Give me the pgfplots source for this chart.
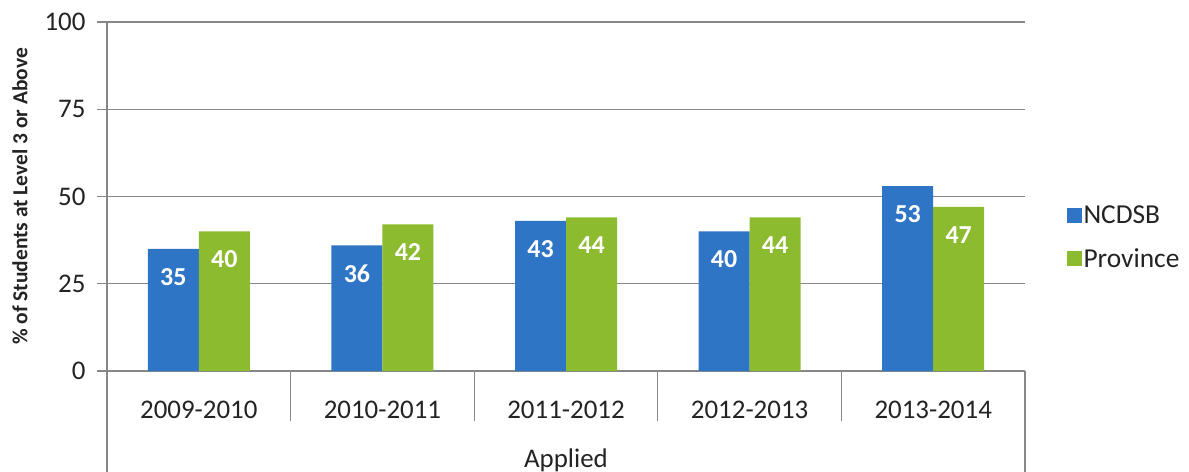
\documentclass[border=0pt]{standalone}
\usepackage{pgfplots}
\pgfplotsset{compat=1.18}
\usepackage{fontspec}
\setmainfont{Carlito}
\definecolor{ncblue}{RGB}{46,117,198}
\definecolor{prgreen}{RGB}{140,187,48}
\definecolor{txt}{RGB}{35,35,35}
\definecolor{gridc}{RGB}{135,135,135}

\begin{document}
\begin{tikzpicture}
\begin{axis}[
  scale only axis, width=918bp, height=349bp,
  ybar=0pt, bar width=51bp,
  xmin=-0.5, xmax=4.5, ymin=0, ymax=100,
  xtick={0,1,2,3,4},
  xticklabels={2009-2010,2010-2011,2011-2012,2012-2013,2013-2014},
  ytick={0,25,50,75,100},
  ymajorgrids, grid style={gridc, line width=1.2bp},
  axis lines*=left, axis line style={-, gridc, line width=1.2bp},
  x tick style={draw=none},
  y tick style={gridc, line width=1.2bp},
  tick align=outside, major tick length=10bp,
  tick label style={font=\fontsize{27}{32}\selectfont, text=txt},
  /pgf/number format/assume math mode=true,
  xticklabel style={yshift=-17bp},
  yticklabel style={xshift=-8bp},
  ylabel={\% of Students at Level 3 or Above},
  every axis y label/.style={at={([xshift=-87bp]rel axis cs:0,0.5)}, rotate=90, anchor=center,
    font=\bfseries\fontsize{21.5}{25}\selectfont, text=txt},
  xlabel={Applied},
  every axis x label/.style={at={([yshift=-89bp]rel axis cs:0.5,0)}, anchor=center,
    font=\fontsize{27}{32}\selectfont, text=txt},
  clip=false,
  nodes near coords,
  every node near coord/.append style={anchor=center, yshift=-28bp, text=white,
    font=\bfseries\fontsize{26}{30}\selectfont},
  legend style={draw=none, fill=none, at={(1.045,0.383)}, anchor=west, inner sep=0pt,
    font=\fontsize{27.5}{32}\selectfont, text=txt, row sep=20bp,
    /tikz/every even column/.append style={column sep=5bp}},
  legend cell align=left,
]
\addplot[fill=ncblue, draw=none,
  legend image code/.code={\fill[ncblue] (0bp,-7.5bp) rectangle (15bp,7.5bp);}]
  coordinates {(0,35) (1,36) (2,43) (3,40) (4,53)};
\addplot[fill=prgreen, draw=none,
  legend image code/.code={\fill[prgreen] (0bp,-7.5bp) rectangle (15bp,7.5bp);}]
  coordinates {(0,40) (1,42) (2,44) (3,44) (4,47)};
\legend{NCDSB, Province}
\draw[gridc, line width=1.2bp] (axis cs:-0.5,0) -- ([yshift=-101bp]axis cs:-0.5,0);
\draw[gridc, line width=1.2bp] (axis cs:4.5,0) -- ([yshift=-101bp]axis cs:4.5,0);
\foreach \s in {0.5,1.5,2.5,3.5}{
  \edef\tmp{\noexpand\draw[gridc, line width=1.2bp] (axis cs:\s,0) -- ([yshift=-50bp]axis cs:\s,0);}\tmp
}
\coordinate (LL) at (rel axis cs:0,0);
\coordinate (UR) at (rel axis cs:1,1);
\end{axis}
\pgfresetboundingbox
\path ([shift={(-107bp,-101bp)}]LL) rectangle ([shift={(164bp,22bp)}]UR);
\end{tikzpicture}
\end{document}
